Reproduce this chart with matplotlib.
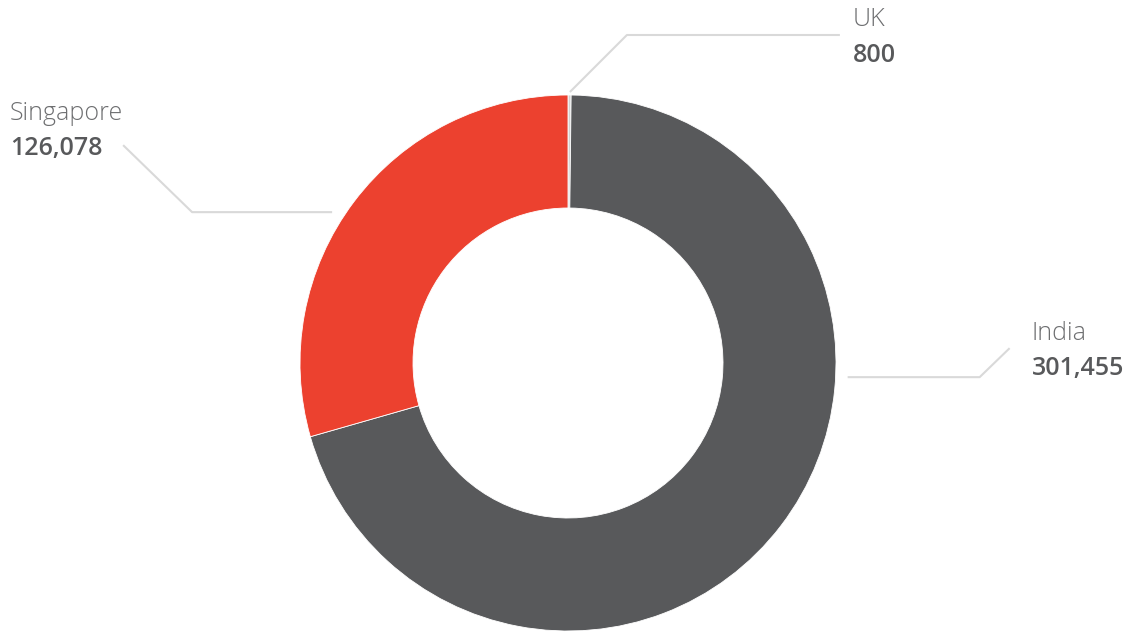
import numpy as np
import matplotlib
matplotlib.use("Agg")
import matplotlib.pyplot as plt

plt.rcParams['font.family'] = ['Open Sans', 'DejaVu Sans']

# clockwise from twelve o'clock
countries = ['UK', 'India', 'Singapore']
amounts = [800, 301455, 126078]
colors = ['#d2d2d2', '#58595b', '#ec412f']

W, H = 1128, 633
fig = plt.figure(figsize=(W / 100, H / 100), dpi=100, facecolor='white')
ax = fig.add_axes([0, 0, 1, 1])

cx, cy = 568, H - 363
R = 268
wedges, _ = ax.pie(amounts, colors=colors, startangle=90, counterclock=False,
                   center=(cx, cy), radius=R, frame=True,
                   wedgeprops=dict(width=R - 155, edgecolor='white', linewidth=0.6))
ax.set_xlim(0, W)
ax.set_ylim(0, H)
ax.set_aspect('equal')
ax.axis('off')

# leader lines: start angle on the ring, then elbow and end offsets (px)
leaders = {
    'UK':        dict(ang=89.6, r=271, pts=[(57, 57), (270, 57)],
                      text=(853, 19), val=(853, 55)),
    'India':     dict(ang=-2.9, r=280, pts=[(132, 0), (162, 29)],
                      text=(1032, 334), val=(1032, 369)),
    'Singapore': dict(ang=147.4, r=280, pts=[(-140, 0), (-209, 67)],
                      text=(10, 114), val=(10, 149)),
}

for name, amt in zip(countries, amounts):
    ld = leaders[name]
    a = np.radians(ld['ang'])
    x0 = cx + ld['r'] * np.cos(a)
    y0 = cy + ld['r'] * np.sin(a)
    xs = [x0] + [x0 + dx for dx, dy in ld['pts']]
    ys = [y0] + [y0 + dy for dx, dy in ld['pts']]
    ax.plot(xs, ys, color='#d9d9d9', lw=1.5, solid_capstyle='butt', zorder=1)
    tx, ty = ld['text']
    ax.text(tx, H - ty, name, fontsize=18, fontweight='light', color='#6d6e70',
            ha='left', va='center')
    vx, vy = ld['val']
    ax.text(vx, H - vy, f'{amt:,}', fontsize=18, fontweight='semibold', color='#58595b',
            ha='left', va='center')

fig.savefig('out.png', dpi=100, facecolor='white')
